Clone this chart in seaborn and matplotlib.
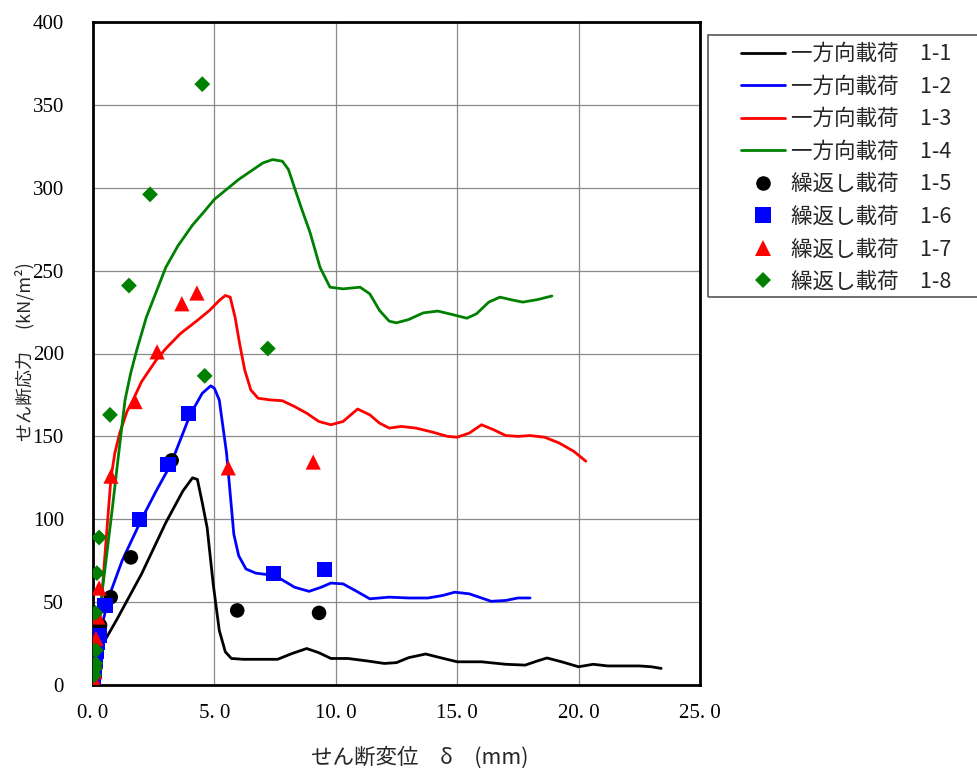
import pandas as pd
import matplotlib
matplotlib.use('Agg')
import matplotlib.pyplot as plt
import seaborn as sns
from matplotlib.ticker import MultipleLocator, FuncFormatter
from matplotlib.patches import Rectangle

# 一方向載荷 (lines)
x11 = [0, 0.3, 1.0, 2.0, 3.0, 3.7, 4.1, 4.3, 4.5, 4.7, 4.95, 5.2, 5.45, 5.7, 6.2, 7.0, 7.6, 8.2, 8.8, 9.3,
       9.8, 10.5, 11.3, 12.0, 12.5, 13.0, 13.7, 14.3, 15.0, 16.0, 17.0, 17.8, 18.3, 18.7, 19.3, 20.0, 20.6,
       21.2, 21.8, 22.5, 23.0, 23.4]
y11 = [0, 22, 40, 67, 98, 117, 125, 124, 110, 95, 61, 33, 20, 16, 15.5, 15.5, 15.5, 19, 22, 19.5,
       16, 16, 14.5, 13, 13.5, 16.5, 18.7, 16.5, 14, 14, 12.5, 12, 14.5, 16.3, 14, 11, 12.5,
       11.5, 11.5, 11.5, 11, 10]
x12 = [0, 0.2, 0.4, 0.7, 1.2, 2.0, 2.6, 3.2, 3.6, 4.0, 4.5, 4.85, 5.0, 5.2, 5.5, 5.8, 6.0, 6.3, 6.7, 7.5,
       8.3, 8.9, 9.4, 9.8, 10.3, 10.8, 11.4, 12.2, 13.0, 13.8, 14.4, 14.9, 15.5, 16.0, 16.4, 17.0, 17.5, 18.0]
y12 = [0, 20, 38, 55, 75, 100, 117, 133, 148, 163, 176, 180.5, 179, 172, 140, 91, 78, 70, 67.5, 66,
       59, 56.5, 59, 61.5, 61, 57, 52, 53, 52.5, 52.5, 54, 56, 55, 52.5, 50.5, 51, 52.5, 52.5]
x13 = [0, 0.15, 0.3, 0.5, 0.74, 0.9, 1.1, 1.4, 1.65, 2.0, 2.6, 3.0, 3.6, 4.3, 4.8, 5.2, 5.45, 5.65, 5.85,
       6.05, 6.25, 6.5, 6.8, 7.3, 7.8, 8.3, 8.8, 9.3, 9.8, 10.3, 10.9, 11.4, 11.8, 12.2, 12.7, 13.3, 14.0,
       14.6, 15.0, 15.5, 16.0, 16.5, 17.0, 17.5, 18.0, 18.6, 19.2, 19.8, 20.3]
y13 = [0, 20, 41, 80, 125, 140, 152, 165, 172, 183, 196, 203, 212, 220, 226, 232, 235, 234, 222,
       205, 190, 178, 173, 172, 171.5, 168, 164, 159, 157, 159, 166.5, 163, 158, 155, 156, 155, 152.5,
       150, 149.5, 152, 157, 154, 150.5, 150, 150.5, 149.5, 146, 141, 135]
x14 = [0, 0.16, 0.45, 0.8, 1.1, 1.32, 1.55, 1.8, 2.2, 2.6, 3.0, 3.5, 4.1, 4.6, 5.0, 5.5, 6.0, 6.5, 7.0,
       7.4, 7.8, 8.05, 8.3, 8.6, 8.94, 9.35, 9.76, 10.3, 11.0, 11.4, 11.8, 12.2, 12.5, 13.0, 13.6, 14.2,
       14.8, 15.4, 15.8, 16.3, 16.76, 17.2, 17.7, 18.3, 18.9]
y14 = [0, 31, 65, 107, 145, 172, 188, 202, 222, 237, 252, 265, 277.5, 286, 293, 299, 305, 310, 315,
       317, 316, 311, 300, 287, 273, 252, 240, 239, 240, 236, 226, 219.5, 218.5, 220.5, 224.5, 225.6,
       223.5, 221.3, 224, 231, 234, 232.5, 231, 232.5, 234.7]

# 繰返し載荷 (markers)
x15 = [0.05, 0.15, 0.29, 0.73, 1.56, 3.24, 5.94, 9.31]
y15 = [5, 18, 36, 53, 77, 135.5, 45, 43.5]
x16 = [0.0, 0.05, 0.1, 0.15, 0.2, 0.25, 0.49, 1.9, 3.09, 3.92, 7.43, 9.55]
y16 = [0, 8, 14, 20, 26, 30, 48, 100, 133, 164, 67.5, 69.5]
x17 = [0.05, 0.08, 0.1, 0.12, 0.2, 0.25, 0.74, 1.73, 2.64, 3.66, 4.28, 5.57, 9.07]
y17 = [3, 8, 14, 28, 41, 58.5, 126, 171, 201, 230, 236.5, 131, 134.5]
x18 = [0.05, 0.08, 0.1, 0.12, 0.1, 0.16, 0.25, 0.7, 1.48, 2.35, 4.5, 4.6, 7.2]
y18 = [6, 10, 13, 21, 43.5, 67.5, 89, 163, 241, 296, 362.5, 186.5, 203]

line_labels = ['一方向載荷　1-1', '一方向載荷　1-2', '一方向載荷　1-3', '一方向載荷　1-4']
pt_labels = ['繰返し載荷　1-5', '繰返し載荷　1-6', '繰返し載荷　1-7', '繰返し載荷　1-8']
colors = ['black', 'blue', 'red', 'green']

lines_df = pd.concat([pd.DataFrame({'x': x, 'y': y, 'series': lab})
                      for x, y, lab in zip([x11, x12, x13, x14], [y11, y12, y13, y14], line_labels)])
pts_df = pd.concat([pd.DataFrame({'x': x, 'y': y, 'series': lab})
                    for x, y, lab in zip([x15, x16, x17, x18], [y15, y16, y17, y18], pt_labels)])

sns.set_style('white')
plt.rcParams['font.family'] = ['Noto Sans CJK JP', 'DejaVu Sans']

fig = plt.figure(figsize=(9.77, 7.68), dpi=100)
ax = fig.add_axes([93 / 977, 1 - 685 / 768, 607 / 977, 663 / 768])

sns.lineplot(data=lines_df, x='x', y='y', hue='series', hue_order=line_labels,
             palette=dict(zip(line_labels, colors)), sort=False, estimator=None,
             linewidth=2, ax=ax)
sns.scatterplot(data=pts_df, x='x', y='y', hue='series', hue_order=pt_labels,
                style='series', style_order=pt_labels,
                palette=dict(zip(pt_labels, colors)),
                markers=dict(zip(pt_labels, ['o', 's', '^', 'D'])),
                size='series', sizes=dict(zip(pt_labels, [110, 120, 120, 65])),
                linewidth=0, ax=ax, zorder=3)

handles, labels = ax.get_legend_handles_labels()
keep = {}
for h, l in zip(handles, labels):
    if l in line_labels + pt_labels and l not in keep:
        keep[l] = h
if ax.get_legend() is not None:
    ax.get_legend().remove()
order = line_labels + pt_labels
fig.legend([keep[l] for l in order if l in keep], [l for l in order if l in keep],
           loc='upper left', bbox_to_anchor=(726 / 977, 1 - 28 / 768), frameon=False,
           fontsize=15.5, handlelength=2.05, handletextpad=0.25, labelspacing=0.49,
           borderpad=0.2)
fig.patches.append(Rectangle((708 / 977, 1 - 297 / 768), 275 / 977, 262 / 768,
                             transform=fig.transFigure, fill=False, edgecolor='#555555',
                             linewidth=1.2))

ax.set_xlim(0, 25)
ax.set_ylim(0, 400)
ax.xaxis.set_major_locator(MultipleLocator(5))
ax.xaxis.set_minor_locator(MultipleLocator(1))
ax.yaxis.set_major_locator(MultipleLocator(50))
ax.yaxis.set_minor_locator(MultipleLocator(10))
ax.xaxis.set_major_formatter(FuncFormatter(lambda v, p: f'{v:.1f}'.replace('.', '. ')))
ax.grid(True, which='major', color='#8a8a8a', linewidth=0.9)
ax.tick_params(which='both', direction='in', colors='black')
ax.tick_params(which='major', length=0)
ax.tick_params(which='minor', length=5, width=1)
ax.tick_params(axis='y', which='major', pad=21)
ax.tick_params(axis='x', which='major', pad=14)
for t in ax.get_xticklabels() + ax.get_yticklabels():
    t.set_fontfamily('Liberation Serif')
    t.set_fontsize(15)

for s in ax.spines.values():
    s.set_color('black')
    s.set_linewidth(2)

ax.set_xlabel('せん断変位　δ　(mm)', fontsize=15.5, va='center')
ax.set_ylabel('せん断応力　 (kN/m²)', fontsize=13)
ax.xaxis.set_label_coords((420 - 93) / 607, (685 - 758) / 663)
ax.yaxis.set_label_coords((34 - 93) / 607, (685 - 352) / 663)

fig.savefig('out.png', dpi=100)
